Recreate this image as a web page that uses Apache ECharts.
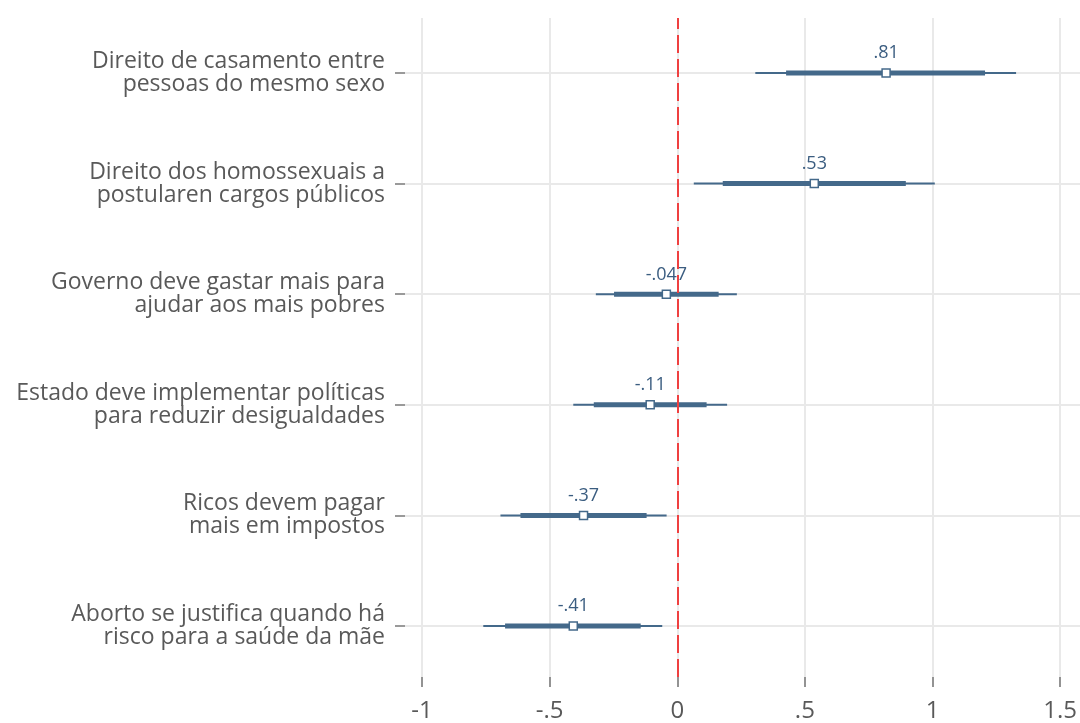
<!DOCTYPE html>
<html>
<head>
<meta charset="utf-8">
<script src="https://cdn.jsdelivr.net/npm/echarts@6/dist/echarts.min.js"></script>
<style>
  html, body { margin: 0; padding: 0; background: #fff; }
  #chart { width: 1080px; height: 723px; }
</style>
</head>
<body>
<div id="chart"></div>
<script>
// items, top to bottom
const categories = [
  'Direito de casamento entre\npessoas do mesmo sexo',
  'Direito dos homossexuais a\npostularen cargos públicos',
  'Governo deve gastar mais para\najudar aos mais pobres',
  'Estado deve implementar políticas\npara reduzir desigualdades',
  'Ricos devem pagar\nmais em impostos',
  'Aborto se justifica quando há\nrisco para a saúde da mãe'
]
const estimates = [0.81, 0.53, -0.047, -0.11, -0.37, -0.41]
const estimateLabels = ['.81', '.53', '-.047', '-.11', '-.37', '-.41']
// wide interval (thin line) and narrow interval (thick line)
const ciLow95 = [0.30, 0.06, -0.322, -0.41, -0.694, -0.761]
const ciHigh95 = [1.317, 1.0, 0.228, 0.19, -0.046, -0.063]
const ciLow90 = [0.42, 0.173, -0.251, -0.33, -0.616, -0.676]
const ciHigh90 = [1.196, 0.887, 0.157, 0.11, -0.124, -0.147]
const xTickValues = [-1, -0.5, 0, 0.5, 1, 1.5]
const xTickLabels = ['-1', '-.5', '0', '.5', '1', '1.5']

const ink = '#44698a'
const textGray = '#595959'
const gridGray = '#e9e9e9'
const font = "'Open Sans', 'Noto Sans', sans-serif"

const chart = echarts.init(document.getElementById('chart'), null, { renderer: 'canvas' })

function ciSeries(low, high, width) {
  return {
    type: 'custom',
    xAxisIndex: 0,
    yAxisIndex: 0,
    z: 3,
    silent: true,
    data: low.map((l, i) => [l, high[i], i]),
    encode: { x: [0, 1], y: 2 },
    renderItem: (params, api) => {
      const a = api.coord([api.value(0), api.value(2)])
      const b = api.coord([api.value(1), api.value(2)])
      return {
        type: 'line',
        shape: { x1: a[0], y1: a[1], x2: b[0], y2: b[1] },
        style: { stroke: ink, lineWidth: width }
      }
    }
  }
}

const option = {
  backgroundColor: '#fff',
  animation: false,
  grid: [
    // holds the items (category axis) with horizontal rules
    { left: 405, right: 0, top: 73, bottom: 97 },
    // holds the x scale with vertical rules
    { left: 422, right: 17, top: 18, bottom: 41 }
  ],
  xAxis: [
    {
      gridIndex: 0,
      type: 'value',
      min: -1.0663,
      max: 1.5663,
      show: false
    },
    {
      gridIndex: 1,
      type: 'value',
      min: -1,
      max: 1.5,
      interval: 0.5,
      axisLine: { show: false, onZero: false },
      axisTick: { show: true, length: 10, lineStyle: { color: '#707070', width: 1.5 } },
      axisLabel: {
        margin: 22,
        color: textGray,
        fontFamily: font,
        fontSize: 24,
        formatter: (v) => xTickLabels[xTickValues.findIndex((t) => Math.abs(t - v) < 1e-9)]
      },
      splitLine: { show: true, lineStyle: { color: gridGray, width: 2 } }
    }
  ],
  yAxis: [
    {
      gridIndex: 0,
      type: 'category',
      data: categories,
      inverse: true,
      boundaryGap: false,
      axisLine: { show: false, onZero: false },
      axisTick: { show: true, length: 10, lineStyle: { color: '#7a7a7a', width: 1.5 } },
      axisLabel: {
        interval: 0,
        margin: 20,
        color: textGray,
        fontFamily: font,
        fontSize: 23,
        lineHeight: 23,
        align: 'right'
      },
      splitLine: { show: true, lineStyle: { color: gridGray, width: 2 } }
    },
    { gridIndex: 1, type: 'value', min: 0, max: 1, show: false }
  ],
  series: [
    ciSeries(ciLow95, ciHigh95, 2),
    ciSeries(ciLow90, ciHigh90, 5),
    {
      type: 'scatter',
      xAxisIndex: 0,
      yAxisIndex: 0,
      z: 4,
      silent: true,
      symbol: 'rect',
      symbolSize: 8,
      itemStyle: { color: '#fff', borderColor: ink, borderWidth: 1.5, opacity: 1 },
      data: estimates.map((v, i) => [v, i]),
      label: {
        show: true,
        position: 'top',
        distance: 6,
        color: '#3b5d80',
        fontFamily: font,
        fontSize: 18,
        formatter: (p) => estimateLabels[p.dataIndex]
      }
    },
    {
      type: 'line',
      xAxisIndex: 1,
      yAxisIndex: 1,
      data: [],
      z: 2,
      markLine: {
        silent: true,
        symbol: 'none',
        label: { show: false },
        lineStyle: { color: '#ef4040', width: 2, type: [18, 6] },
        data: [{ xAxis: 0 }]
      }
    }
  ]
}

chart.setOption(option)
</script>
</body>
</html>
